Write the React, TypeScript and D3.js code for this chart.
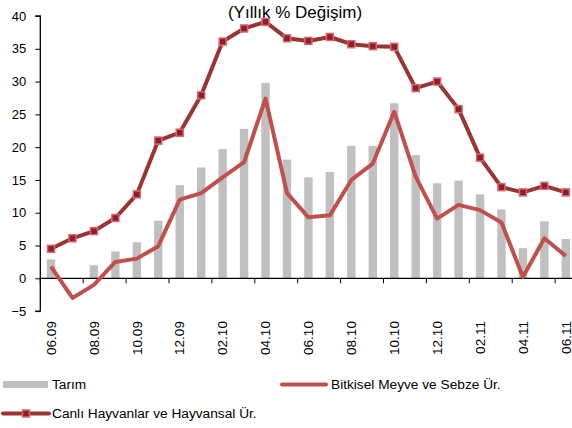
import React, { useEffect, useRef } from 'react';
import * as d3 from 'd3';

const months = [
  '06.09', '07.09', '08.09', '09.09', '10.09', '11.09', '12.09',
  '01.10', '02.10', '03.10', '04.10', '05.10', '06.10', '07.10', '08.10', '09.10', '10.10', '11.10', '12.10',
  '01.11', '02.11', '03.11', '04.11', '05.11', '06.11',
];

const tarim = [
  2.9, 0, 2.0, 4.1, 5.5, 8.8, 14.2, 16.9, 19.7, 22.8, 29.8, 18.1, 15.4,
  16.2, 20.2, 20.2, 26.7, 18.8, 14.5, 14.9, 12.8, 10.5, 4.6, 8.7, 6.0,
];

const bitkisel = [
  1.8, -3.0, -1.0, 2.5, 3.0, 4.9, 12.0, 13.0, 15.4, 17.7, 27.4, 13.0, 9.3,
  9.6, 15.0, 17.5, 25.4, 15.5, 9.1, 11.2, 10.4, 8.5, 0.2, 6.1, 3.4,
];

const canli = [
  4.5, 6.1, 7.2, 9.2, 12.8, 21.0, 22.2, 27.9, 36.1, 38.1, 39.1, 36.6, 36.2,
  36.8, 35.7, 35.4, 35.3, 29.0, 30.0, 25.8, 18.4, 13.9, 13.1, 14.1, 13.1,
];

const yTicks = [-5, 0, 5, 10, 15, 20, 25, 30, 35, 40];

const COLORS = {
  bar: '#c0c0c0',
  bitkisel: '#c0504d',
  canli: '#993535',
  markerFill: '#8c1f2e',
  markerStroke: '#d9676a',
  text: '#000',
};

const FONT = 'Arial, "Liberation Sans", sans-serif';

const App: React.FC = () => {
  const svgRef = useRef<SVGSVGElement>(null);

  useEffect(() => {
    const width = 572;
    const height = 428;
    const svg = d3.select(svgRef.current).attr('width', width).attr('height', height);
    svg.selectAll('*').remove();

    const left = 40.3;
    const step = 21.45;

    const x = d3.scaleBand<string>()
      .domain(months)
      .range([left, left + step * months.length]);

    const y = d3.scaleLinear().domain([-5, 40]).range([311.1, 16]);

    const cx = (m: string) => (x(m) || 0) + x.bandwidth() / 2;

    // title
    svg.append('text')
      .attr('x', 295)
      .attr('y', 18)
      .attr('text-anchor', 'middle')
      .attr('font-family', FONT)
      .attr('font-size', '17px')
      .attr('fill', COLORS.text)
      .text('(Yıllık % Değişim)');

    // bars
    svg.selectAll('.bar')
      .data(months)
      .enter()
      .append('rect')
      .attr('class', 'bar')
      .attr('x', d => cx(d) - 4.2)
      .attr('width', 8.4)
      .attr('y', (d, i) => y(Math.max(0, tarim[i])))
      .attr('height', (d, i) => Math.abs(y(tarim[i]) - y(0)))
      .attr('fill', COLORS.bar);

    // y axis
    svg.append('g')
      .attr('transform', `translate(${left},0)`)
      .call(d3.axisLeft(y).tickValues(yTicks).tickSize(5).tickPadding(9))
      .call(g => g.select('.domain').attr('stroke', '#000').attr('stroke-width', 1.3).attr('d', `M-5,${y(-5)}H0V${y(40)}H-5`))
      .call(g => g.selectAll('.tick line').attr('stroke', '#000'))
      .call(g => g.selectAll('.tick text')
        .attr('font-family', FONT)
        .attr('font-size', '13px')
        .attr('fill', COLORS.text));

    // x axis line at zero
    const xg = svg.append('g');
    xg.append('line')
      .attr('x1', left)
      .attr('x2', width)
      .attr('y1', y(0))
      .attr('y2', y(0))
      .attr('stroke', '#000')
      .attr('stroke-width', 1.3);

    xg.selectAll('.xtick')
      .data(months.filter((d, i) => i % 2 === 0))
      .enter()
      .append('line')
      .attr('class', 'xtick')
      .attr('x1', d => x(d) || 0)
      .attr('x2', d => x(d) || 0)
      .attr('y1', y(0))
      .attr('y2', y(0) + 5)
      .attr('stroke', '#000');

    xg.selectAll('.xlabel')
      .data(months.filter((d, i) => i % 2 === 0))
      .enter()
      .append('text')
      .attr('class', 'xlabel')
      .attr('transform', d => `translate(${cx(d)},${y(-5) + 10}) rotate(-90)`)
      .attr('text-anchor', 'end')
      .attr('dy', '0.35em')
      .attr('font-family', FONT)
      .attr('font-size', '13.5px')
      .attr('fill', COLORS.text)
      .text(d => d);

    // lines
    const line = d3.line<number>()
      .x((d, i) => cx(months[i]))
      .y(d => y(d));

    svg.append('path')
      .datum(bitkisel)
      .attr('fill', 'none')
      .attr('stroke', COLORS.bitkisel)
      .attr('stroke-width', 4)
      .attr('stroke-linejoin', 'round')
      .attr('d', line);

    svg.append('path')
      .datum(canli)
      .attr('fill', 'none')
      .attr('stroke', COLORS.canli)
      .attr('stroke-width', 4)
      .attr('stroke-linejoin', 'round')
      .attr('d', line);

    svg.selectAll('.marker')
      .data(canli)
      .enter()
      .append('rect')
      .attr('class', 'marker')
      .attr('x', (d, i) => cx(months[i]) - 3.5)
      .attr('y', d => y(d) - 3.5)
      .attr('width', 7)
      .attr('height', 7)
      .attr('fill', COLORS.markerFill)
      .attr('stroke', COLORS.markerStroke)
      .attr('stroke-width', 1.5);

    // legend
    const legend = svg.append('g')
      .attr('font-family', FONT)
      .attr('font-size', '13.7px')
      .attr('fill', COLORS.text);

    legend.append('rect')
      .attr('x', 3).attr('y', 381).attr('width', 45).attr('height', 7)
      .attr('fill', COLORS.bar);
    legend.append('text').attr('x', 52).attr('y', 389).text('Tarım');

    legend.append('line')
      .attr('x1', 282).attr('x2', 326).attr('y1', 384.5).attr('y2', 384.5)
      .attr('stroke', COLORS.bitkisel).attr('stroke-width', 4).attr('stroke-linecap', 'round');
    legend.append('text').attr('x', 331).attr('y', 389).text('Bitkisel Meyve ve Sebze Ür.');

    legend.append('line')
      .attr('x1', 3).attr('x2', 49).attr('y1', 413.5).attr('y2', 413.5)
      .attr('stroke', COLORS.canli).attr('stroke-width', 4).attr('stroke-linecap', 'round');
    legend.append('rect')
      .attr('x', 22.5).attr('y', 410).attr('width', 7).attr('height', 7)
      .attr('fill', COLORS.markerFill).attr('stroke', COLORS.markerStroke).attr('stroke-width', 1.5);
    legend.append('text').attr('x', 52).attr('y', 418).text('Canlı Hayvanlar ve Hayvansal Ür.');
  }, []);

  return (
    <div style={{ position: 'absolute', left: 0, top: 0 }}>
      <svg ref={svgRef} style={{ display: 'block' }}></svg>
    </div>
  );
};

export default App;
